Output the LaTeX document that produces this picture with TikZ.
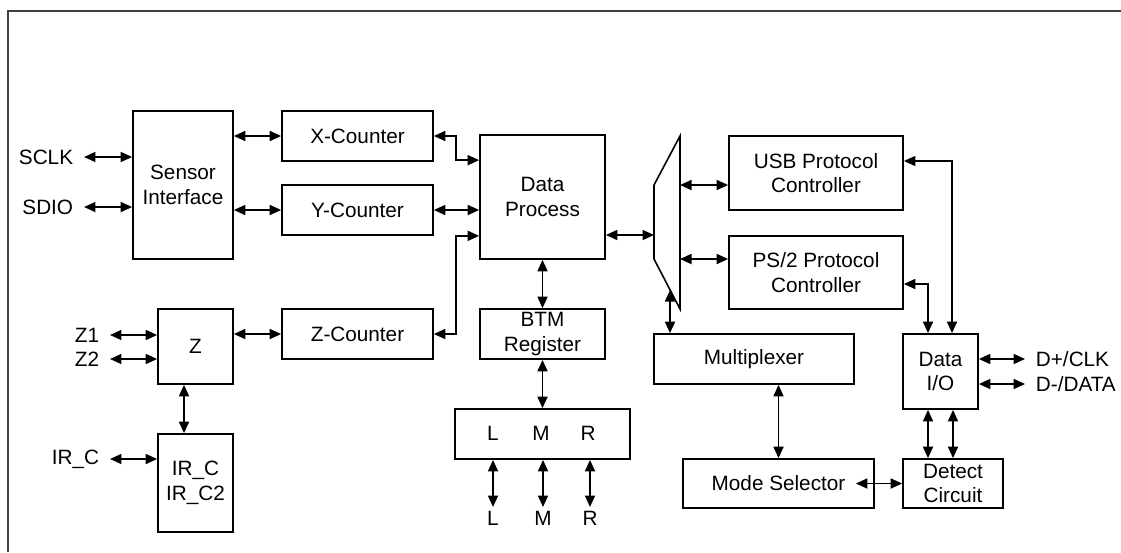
\documentclass[tikz,border=0pt]{standalone}
\usepackage{fontspec}
\setmainfont{Liberation Sans}
\usepackage{tikz}
\usetikzlibrary{arrows.meta, calc}

\begin{document}
\begin{tikzpicture}[x=0.02cm, y=-0.02cm,
    font=\fontsize{11.8}{14}\selectfont,
    block/.style={draw, line width=1pt, inner sep=0pt, align=center},
    sig/.style={inner xsep=6pt, inner ysep=1pt},
    bi/.style={{Triangle[length=2.3mm,width=2mm]}-{Triangle[length=2.3mm,width=2mm]}, line width=1pt}]
    \useasboundingbox (0,0) rectangle (1121,552);
    \draw[black!75, line width=1.1pt] (8,552) -- (8,11) -- (1121,11);

    % Sensor side
    \node[block, minimum width=2cm, minimum height=2.96cm] (sensor) at (183,185) {Sensor\\Interface};
    \node[sig, anchor=east] (sclk) at (84,157) {SCLK};
    \node[sig, anchor=east] (sdio) at (84,207) {SDIO};
    \draw[bi] (sclk.east) -- (sensor.west |- sclk.east);
    \draw[bi] (sdio.east) -- (sensor.west |- sdio.east);

    % Counters
    \node[block, minimum width=3.02cm, minimum height=1cm] (xcnt) at (357.5,136) {X-Counter};
    \node[block, minimum width=3.02cm, minimum height=1cm] (ycnt) at (357.5,210) {Y-Counter};
    \node[block, minimum width=3.02cm, minimum height=1cm] (zcnt) at (357.5,334) {Z-Counter};
    \draw[bi] (sensor.east |- xcnt.west) -- (xcnt.west);
    \draw[bi] (sensor.east |- ycnt.west) -- (ycnt.west);

    % Z and IR
    \node[block, minimum width=1.5cm, minimum height=1.5cm] (zblk) at (195.5,346.5) {Z};
    \node[block, minimum width=1.5cm, minimum height=1.96cm] (irblk) at (195.5,483) {IR\_C\\IR\_C2};
    \node[sig, anchor=east] (zone) at (110,335) {Z1};
    \node[sig, anchor=east] (ztwo) at (110,359) {Z2};
    \node[sig, anchor=east] (irc) at (110,459) {IR\_C};
    \draw[bi] (zone.east) -- (zblk.west |- zone.east);
    \draw[bi] (ztwo.east) -- (zblk.west |- ztwo.east);
    \draw[bi] (irc.east) -- (irblk.west |- irc.east);
    \draw[bi] (zblk.east |- zcnt.west) -- (zcnt.west);
    \draw[bi] ([xshift=-0.23cm]zblk.south) -- ([xshift=-0.23cm]irblk.north);

    % Data process and buttons
    \node[block, minimum width=2.5cm, minimum height=2.48cm] (dproc) at (542.5,197) {Data\\Process};
    \node[block, minimum width=2.5cm, minimum height=1cm] (btm) at (542.5,334) {BTM\\Register};
    \node[block, minimum width=3.5cm, minimum height=1cm] (lmr) at (542.5,434) {};
    \node (li) at (493,433) {L};
    \node (mi) at (541,433) {M};
    \node (ri) at (588,433) {R};
    \node[inner ysep=2pt, anchor=north] (lo) at (493,507) {L};
    \node[inner ysep=2pt, anchor=north] (mo) at (543,507) {M};
    \node[inner ysep=2pt, anchor=north] (ro) at (590,507) {R};
    \draw[bi] (xcnt.east) -- ++(22,0) |- ($(dproc.north west)+(0,26)$);
    \draw[bi] (ycnt.east) -- (dproc.west |- ycnt.east);
    \draw[bi] (zcnt.east) -- ++(22,0) |- ($(dproc.south west)+(0,-24)$);
    \draw[bi] (dproc.south) -- (btm.north);
    \draw[bi] (btm.south) -- (lmr.north);
    \draw[bi] (lo.north |- lmr.south) -- (lo.north);
    \draw[bi] (mo.north |- lmr.south) -- (mo.north);
    \draw[bi] (ro.north |- lmr.south) -- (ro.north);

    % Switch
    \draw[line width=0.9pt] (654,185) -- (680,136) -- (680,309) -- (654,259) -- cycle;
    \coordinate (swin) at (654,235);
    \coordinate (swusb) at (680,185);
    \coordinate (swps) at (680,259);
    \coordinate (swmux) at (670,290);

    % Protocol side
    \node[block, minimum width=3.48cm, minimum height=1.48cm] (usb) at (816,173) {USB Protocol\\Controller};
    \node[block, minimum width=3.48cm, minimum height=1.46cm] (ps2) at (816,272.5) {PS/2 Protocol\\Controller};
    \node[block, minimum width=4cm, minimum height=1cm] (mux) at (754,359) {Multiplexer};
    \node[block, minimum width=1.5cm, minimum height=1.5cm] (dio) at (940.5,371.5) {Data\\I/O};
    \node[block, minimum width=2cm, minimum height=0.98cm] (detect) at (953,483.5) {Detect\\Circuit};
    \node[block, minimum width=3.82cm, minimum height=0.98cm] (mode) at (778.5,483.5) {Mode Selector};
    \node[sig, anchor=west] (dplus) at (1025,359) {D+/CLK};
    \node[sig, anchor=west] (dminus) at (1025,384) {D-/DATA};
    \draw[bi] (dproc.east |- swin) -- (swin);
    \draw[bi] (swusb) -- (usb.west |- swusb);
    \draw[bi] (swps) -- (ps2.west |- swps);
    \draw[bi] (swmux) -- (mux.north -| swmux);
    \draw[bi] ([yshift=0.24cm]usb.east) -| ([xshift=0.23cm]dio.north);
    \draw[bi] ([yshift=-0.23cm]ps2.east) -| ([xshift=-0.25cm]dio.north);
    \draw[bi] ([xshift=-0.25cm]dio.south) -- ([xshift=-0.25cm]dio.south |- detect.north);
    \draw[bi] ([xshift=0.25cm]dio.south) -- ([xshift=0.25cm]dio.south |- detect.north);
    \draw[bi] (mode.north) -- (mode.north |- mux.south);
    \draw[bi] ([xshift=-0.38cm]mode.east) -- (detect.west);
    \draw[bi] ([yshift=0.25cm]dio.east) -- (dplus.west);
    \draw[bi] ([yshift=-0.25cm]dio.east) -- (dminus.west);
\end{tikzpicture}
\end{document}
